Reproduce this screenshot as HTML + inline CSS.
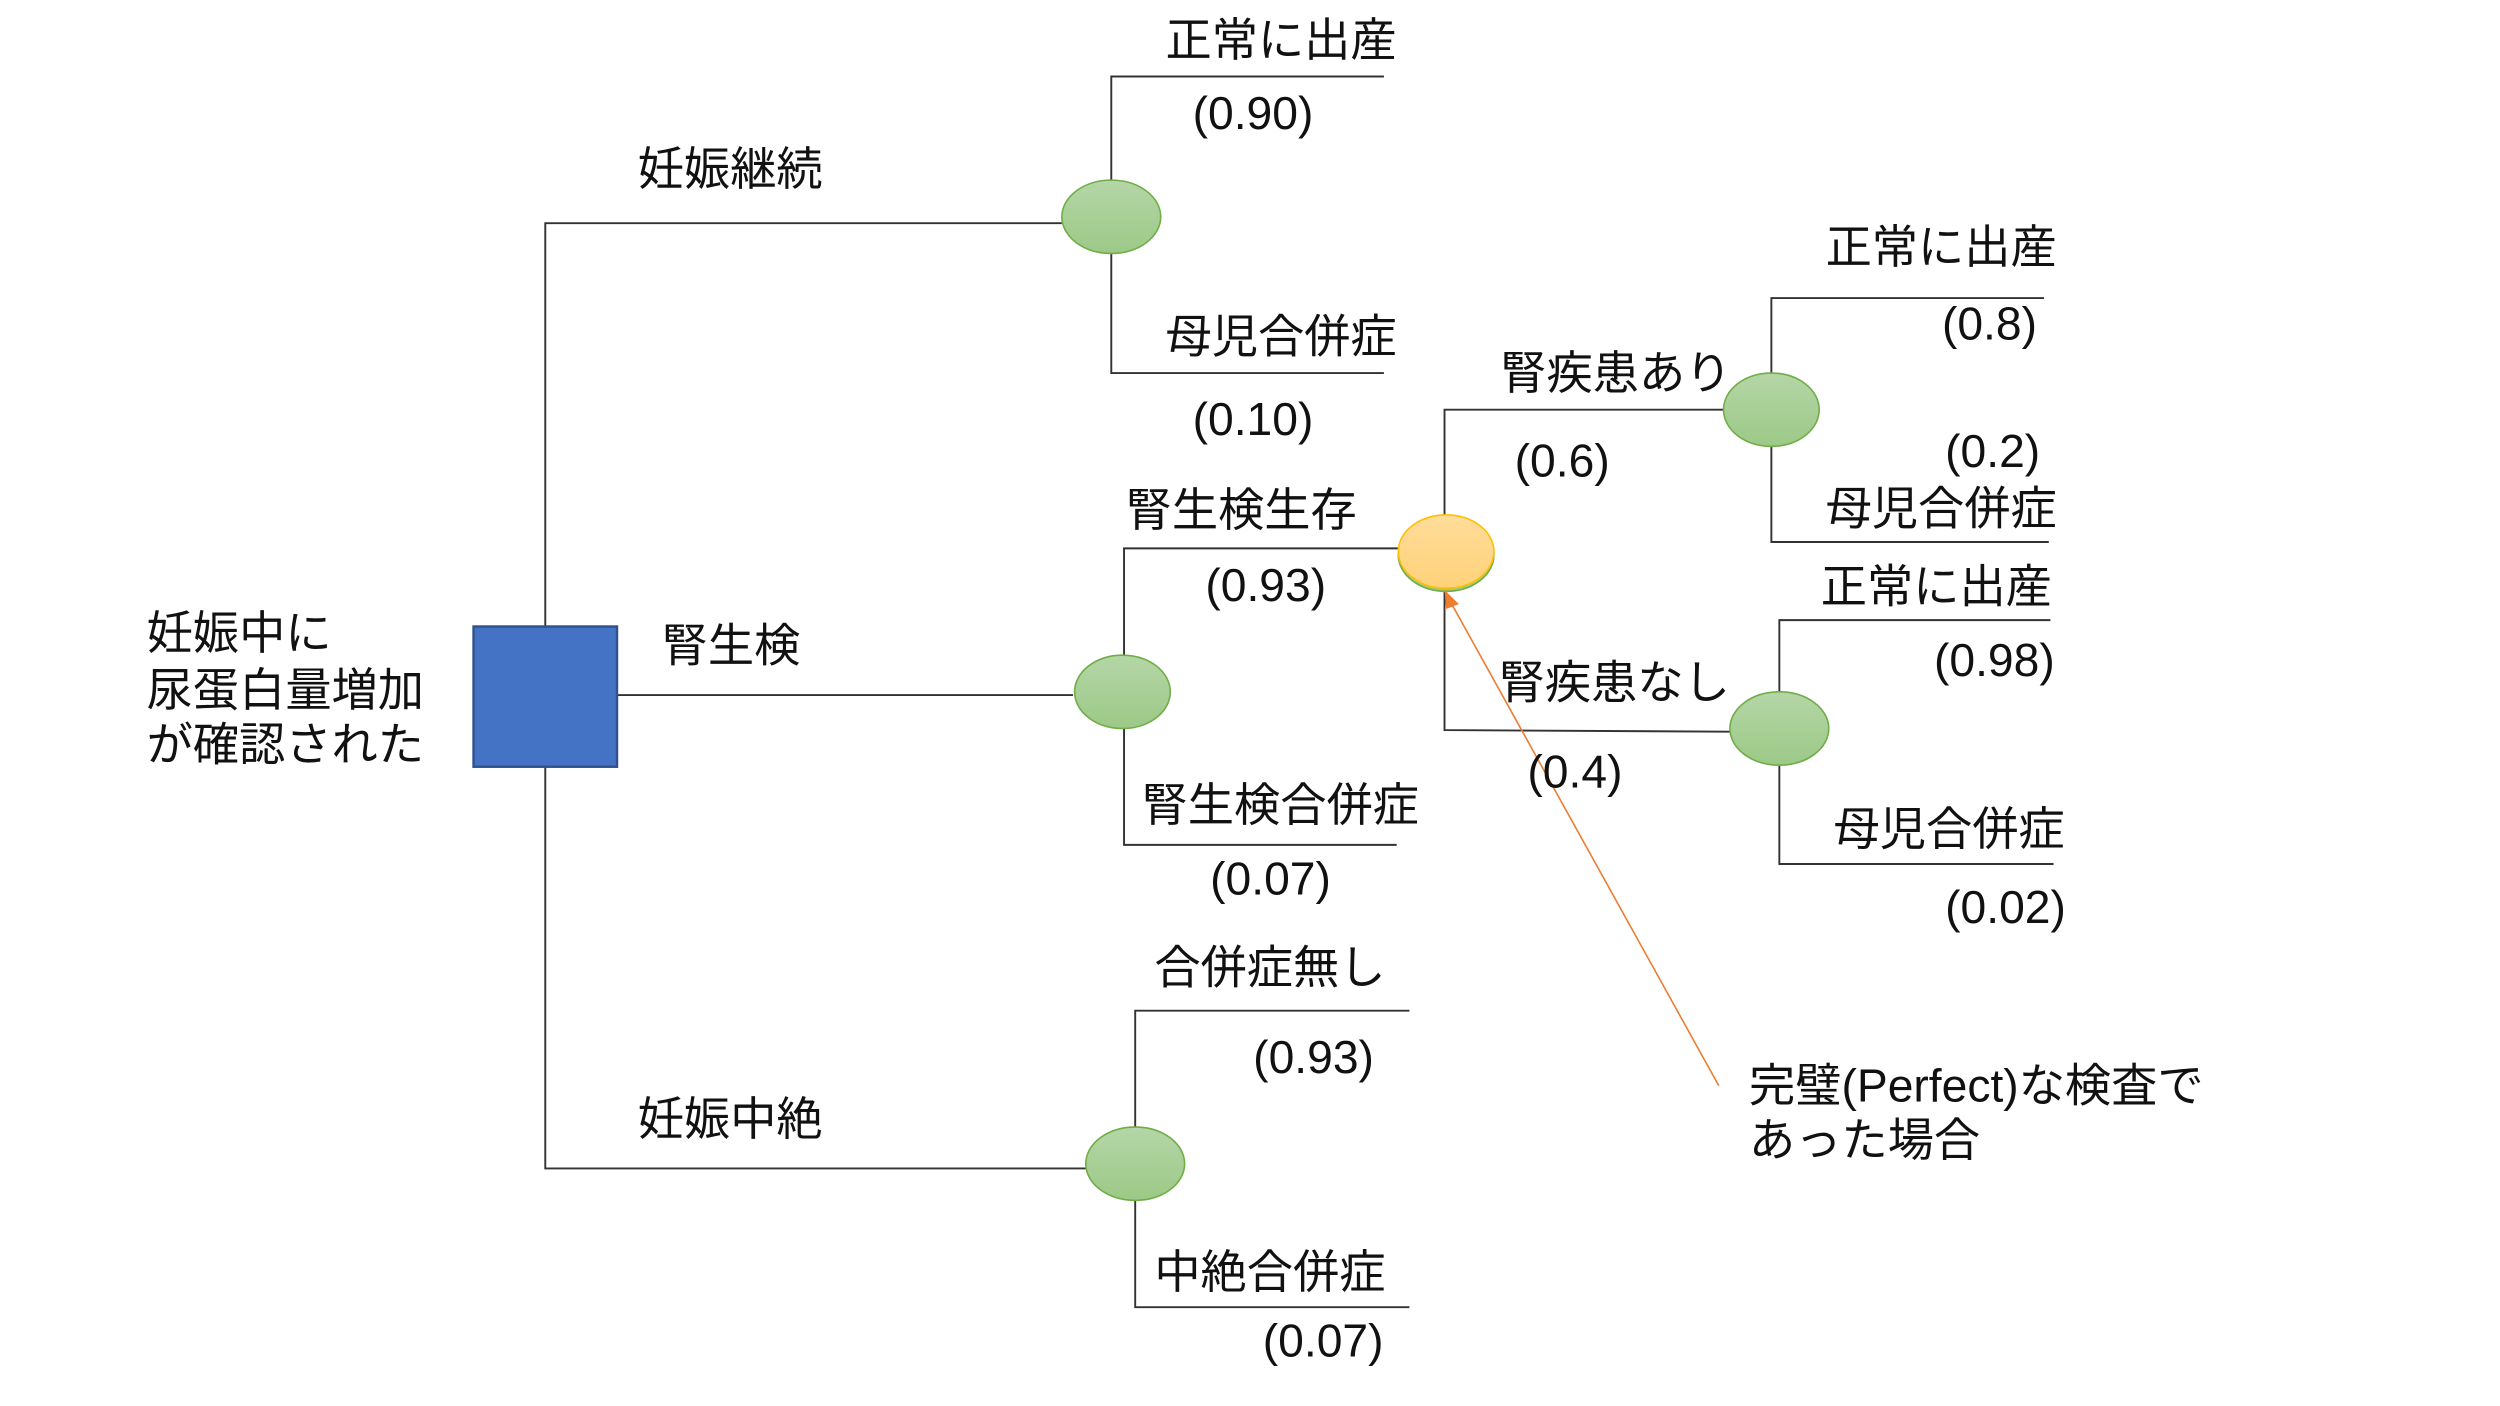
<!DOCTYPE html>
<html><head><meta charset="utf-8"><style>
html,body{margin:0;padding:0;background:#fff;}
svg{display:block}
text{font-family:"Liberation Sans","Noto Sans CJK JP",sans-serif;font-size:29px;fill:#111;dominant-baseline:central}
</style></head><body>
<svg width="2500" height="1406" viewBox="0 0 1568 882" preserveAspectRatio="none" xmlns="http://www.w3.org/2000/svg">
<defs>
<linearGradient id="g" x1="0" y1="0" x2="0" y2="1"><stop offset="0" stop-color="#b5d6a7"/><stop offset="1" stop-color="#9cc987"/></linearGradient>
<linearGradient id="o" x1="0" y1="0" x2="0" y2="1"><stop offset="0" stop-color="#ffdc9a"/><stop offset="1" stop-color="#ffd27a"/></linearGradient>
</defs>
<g stroke="#333" stroke-width="1.2" fill="none">
<path d="M342 393V140H666M342 481V733H682M387 436H673"/>
<path d="M697 113V48H868M697 159V234H868"/>
<path d="M705 411V344H878M705 457V530H876"/>
<path d="M906 323V257H1081M906 369V458L1085 459"/>
<path d="M1111 234V187H1282M1111 280V340H1285"/>
<path d="M1116 434V389H1286M1116 480V542H1288"/>
<path d="M712 707V634H884M712 753V820H884"/>
</g>
<rect x="297" y="393" width="90" height="88" fill="#4472C4" stroke="#2F528F" stroke-width="1.5"/>
<g fill="url(#g)" stroke="#70AD47" stroke-width="1">
<ellipse cx="697" cy="136" rx="31" ry="23"/>
<ellipse cx="704" cy="434" rx="30" ry="23"/>
<ellipse cx="1111" cy="257" rx="30" ry="23"/>
<ellipse cx="1116" cy="457" rx="31" ry="23"/>
<ellipse cx="712" cy="730" rx="31" ry="23"/>
<ellipse cx="907" cy="348" rx="30" ry="23"/>
</g>
<ellipse cx="907" cy="346" rx="30" ry="23" fill="url(#o)" stroke="#FFC000" stroke-width="1"/>
<line x1="1078" y1="681" x2="910" y2="378" stroke="#ED7D31" stroke-width="1"/>
<polygon points="906,370 915,379 907,382" fill="#ED7D31"/>
<text x="92" y="397">妊娠中に</text>
<text x="92" y="433">尿蛋白量増加</text>
<text x="92" y="467">が確認された</text>
<text x="400" y="106">妊娠継続</text>
<text x="415" y="405">腎生検</text>
<text x="400" y="702">妊娠中絶</text>
<text x="731" y="25">正常に出産</text>
<text x="748" y="71">(0.90)</text>
<text x="731" y="211">母児合併症</text>
<text x="748" y="263">(0.10)</text>
<text x="706" y="320">腎生検生存</text>
<text x="756" y="367">(0.93)</text>
<text x="716" y="505">腎生検合併症</text>
<text x="759" y="551">(0.07)</text>
<text x="941" y="234">腎疾患あり</text>
<text x="950" y="289">(0.6)</text>
<text x="940" y="428">腎疾患なし</text>
<text x="958" y="484">(0.4)</text>
<text x="1145" y="155">正常に出産</text>
<text x="1218" y="203">(0.8)</text>
<text x="1220" y="283">(0.2)</text>
<text x="1145" y="319">母児合併症</text>
<text x="1142" y="368">正常に出産</text>
<text x="1213" y="414">(0.98)</text>
<text x="1150" y="520">母児合併症</text>
<text x="1220" y="569">(0.02)</text>
<text x="724" y="607">合併症無し</text>
<text x="786" y="663">(0.93)</text>
<text x="724" y="798">中絶合併症</text>
<text x="792" y="841">(0.07)</text>
<text x="1097" y="681">完璧(Perfect)な検査で</text>
<text x="1097" y="715">あった場合</text>
</svg>
</body></html>
